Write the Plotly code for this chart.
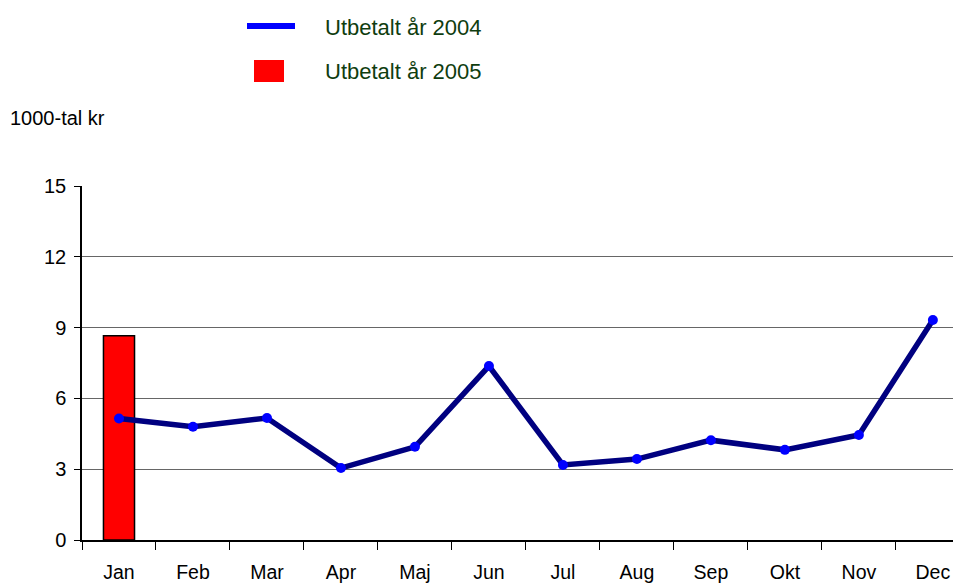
import plotly.graph_objects as go

months = ["Jan", "Feb", "Mar", "Apr", "Maj", "Jun", "Jul", "Aug", "Sep", "Okt", "Nov", "Dec"]
paid_2004 = [5.15, 4.8, 5.17, 3.05, 3.95, 7.37, 3.18, 3.43, 4.23, 3.82, 4.45, 9.32]
months_2005 = ["Jan"]
paid_2005 = [8.65]
y_ticks = [0, 3, 6, 9, 12, 15]
legend_2004 = "Utbetalt år 2004"
legend_2005 = "Utbetalt år 2005"
y_title = "1000-tal kr"

FONT = "Liberation Sans, Arial, sans-serif"

# plot area in page pixels: left 82, top 186, width 879, height 354 (page has 8px body offset)
PW, PH, PL, PB = 879, 354, 82, 540

def px(x):
    return (x - PL) / PW

def py(y):
    return (PB - y) / PH

fig = go.Figure()
fig.add_trace(go.Bar(
    x=months_2005, y=paid_2005, name=legend_2005,
    marker=dict(color="#ff0000", line=dict(color="#000000", width=1.5)),
    width=0.42, showlegend=False,
))
fig.add_trace(go.Scatter(
    x=months, y=paid_2004, name=legend_2004, mode="lines+markers",
    line=dict(color="#000080", width=5.5),
    marker=dict(color="#0000ff", size=10),
    showlegend=False, cliponaxis=False,
))

# custom legend (symbols + text)
fig.add_shape(type="line", xref="paper", yref="paper", x0=px(247), x1=px(295),
              y0=py(26), y1=py(26), line=dict(color="#0000ff", width=6))
fig.add_shape(type="rect", xref="paper", yref="paper", x0=px(254), x1=px(284),
              y0=py(82), y1=py(60), line=dict(width=0), fillcolor="#ff0000")
for txt, yy in [(legend_2004, 27), (legend_2005, 72)]:
    fig.add_annotation(text=txt, xref="paper", yref="paper", x=px(323), y=py(yy),
                       xanchor="left", yanchor="middle", showarrow=False,
                       font=dict(family=FONT, size=22, color="#0f3d0f"))
fig.add_annotation(text=y_title, xref="paper", yref="paper", x=px(8), y=py(118),
                   xanchor="left", yanchor="middle", showarrow=False,
                   font=dict(family=FONT, size=20, color="#000000"))

fig.update_layout(
    width=953, height=577,
    margin=dict(l=74, r=0, t=178, b=45),
    paper_bgcolor="white", plot_bgcolor="white",
    font=dict(family=FONT, size=19.5, color="#000000"),
    xaxis=dict(
        type="category", categoryorder="array", categoryarray=months,
        range=[-0.5, 11.38], tickson="boundaries", ticks="outside", ticklen=8,
        tickcolor="#000000", showgrid=False, showline=True, linecolor="#000000",
        linewidth=1.5, ticklabelstandoff=14, tickfont=dict(size=19.5),
    ),
    yaxis=dict(
        range=[0, 15], tickvals=y_ticks, ticks="outside", ticklen=6,
        tickcolor="#000000", showgrid=True, gridcolor="#666666", gridwidth=1,
        showline=True, linecolor="#000000", linewidth=1.5, zeroline=False,
        ticklabelstandoff=4, tickfont=dict(size=20),
    ),
)

fig.write_html("out.html")
